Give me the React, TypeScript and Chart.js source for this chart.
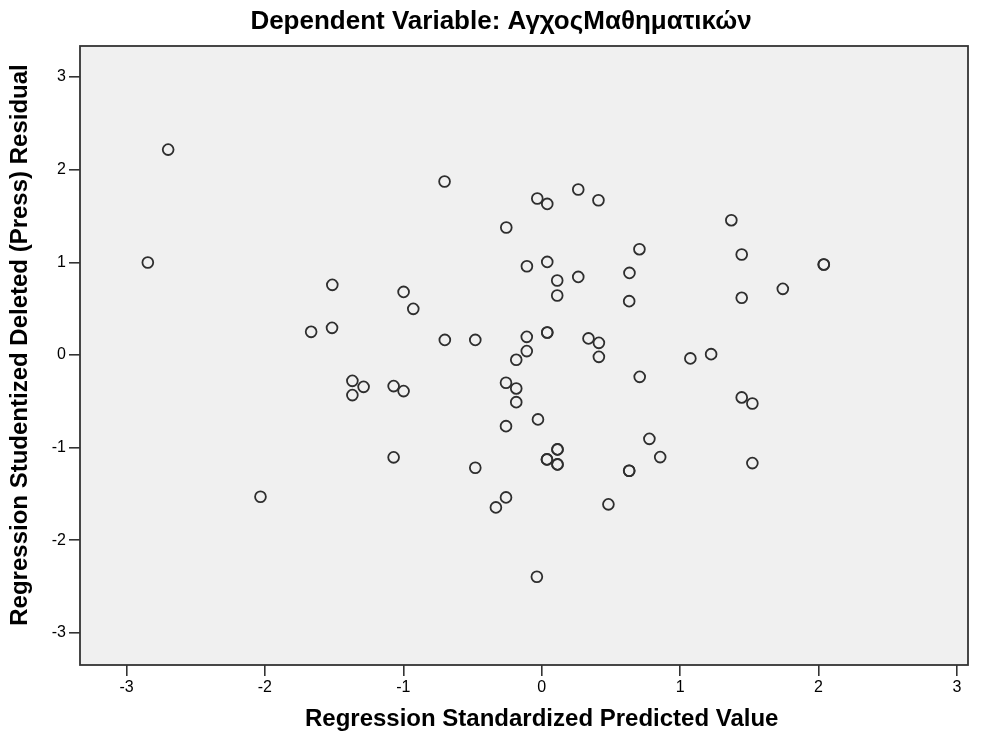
import React, { useEffect, useRef } from "react";
import { Chart, registerables } from "chart.js";

Chart.register(...registerables);

const chartTitle = "Dependent Variable: ΑγχοςΜαθηματικών";
const xAxisTitle = "Regression Standardized Predicted Value";
const yAxisTitle = "Regression Studentized Deleted (Press) Residual";

const xTicks = [-3, -2, -1, 0, 1, 2, 3];
const yTicks = [-3, -2, -1, 0, 1, 2, 3];

const xValues = [
  -2.699, -2.846, -0.702, -0.032, 0.04, 0.264, 0.41, -0.256, 1.37, 0.706,
  1.445, -0.107, 0.04, 0.112, 0.264, 0.634, 0.112, 0.632, 2.038, 2.038,
  1.742, 1.445, -1.513, -0.998, -0.928, -1.666, -1.515, -0.7, -0.48, -0.108,
  0.04, 0.04, 0.338, 0.413, -0.108, -0.184, 0.413, 1.074, 1.224, 0.708,
  -1.368, -1.287, -1.368, -1.07, -0.998, -0.258, -0.184, -0.184, 1.445, 1.522,
  -0.027, -0.258, 0.778, 0.114, 0.114, 0.038, 0.038, 0.114, 0.114, 0.632,
  0.632, 0.856, 1.522, -1.07, -0.48, -0.258, -0.331, 0.482, -2.032, -0.035,
];

const yValues = [
  2.217, 0.998, 1.872, 1.689, 1.631, 1.786, 1.67, 1.376, 1.455, 1.142,
  1.085, 0.958, 1.005, 0.804, 0.843, 0.886, 0.642, 0.581, 0.977, 0.977,
  0.714, 0.617, 0.757, 0.681, 0.498, 0.25, 0.293, 0.163, 0.163, 0.196,
  0.243, 0.243, 0.179, 0.131, 0.042, -0.052, -0.02, -0.037, 0.009, -0.236,
  -0.279, -0.344, -0.433, -0.336, -0.39, -0.3, -0.361, -0.509, -0.458, -0.523,
  -0.695, -0.768, -0.905, -1.019, -1.019, -1.127, -1.127, -1.181, -1.181, -1.25,
  -1.25, -1.102, -1.167, -1.105, -1.217, -1.537, -1.645, -1.612, -1.53, -2.393,
];

const FONT = "'Liberation Sans', Arial, sans-serif";

const plotDecor = {
  id: "plotDecor",
  beforeDraw(chart: any) {
    const { ctx, chartArea } = chart;
    ctx.save();
    ctx.fillStyle = "#f0f0f0";
    ctx.fillRect(chartArea.left, chartArea.top, chartArea.right - chartArea.left, chartArea.bottom - chartArea.top);
    ctx.restore();
  },
  afterDraw(chart: any) {
    const { ctx, chartArea } = chart;
    ctx.save();
    ctx.strokeStyle = "#333333";
    ctx.lineWidth = 1.8;
    ctx.strokeRect(chartArea.left, chartArea.top, chartArea.right - chartArea.left, chartArea.bottom - chartArea.top);
    ctx.fillStyle = "#000";
    ctx.textAlign = "center";
    ctx.textBaseline = "middle";
    ctx.font = `bold 26px ${FONT}`;
    ctx.fillText(chartTitle, 501, 22);
    ctx.font = `bold 24px ${FONT}`;
    ctx.fillText(xAxisTitle, chart.scales.x.getPixelForValue(0), 719);
    ctx.translate(20, 345);
    ctx.rotate(-Math.PI / 2);
    ctx.fillText(yAxisTitle, 0, 0);
    ctx.restore();
  },
};

export default function App() {
  const ref = useRef<HTMLCanvasElement>(null);
  useEffect(() => {
    document.body.style.margin = "0";
    const points = xValues.map((x, i) => ({ x, y: yValues[i] }));
    const chart = new Chart(ref.current!, {
      type: "scatter",
      data: {
        datasets: [
          {
            data: points,
            pointStyle: "circle",
            pointRadius: 5.4,
            pointBorderWidth: 1.8,
            borderColor: "#2e2e2e",
            backgroundColor: "rgba(0,0,0,0)",
          },
        ],
      },
      options: {
        responsive: false,
        animation: false,
        layout: { padding: { left: 0, right: 24, top: 46, bottom: 0 } },
        plugins: {
          legend: { display: false },
          tooltip: { enabled: false },
          title: { display: false },
        },
        scales: {
          x: {
            type: "linear",
            min: -3.336,
            max: 3.08,
            afterBuildTicks: (s: any) => {
              s.ticks = xTicks.map((v) => ({ value: v }));
            },
            afterFit: (s: any) => {
              s.height = 75;
            },
            grid: { display: true, drawOnChartArea: false, drawTicks: true, tickLength: 11, color: "#333", lineWidth: 1.6 },
            border: { display: false },
            ticks: { color: "#000", font: { family: FONT, size: 16 }, padding: 2, callback: (v: any) => String(v) },
          },
          y: {
            type: "linear",
            min: -3.346,
            max: 3.335,
            afterBuildTicks: (s: any) => {
              s.ticks = yTicks.map((v) => ({ value: v }));
            },
            afterFit: (s: any) => {
              s.width = 80;
            },
            grid: { display: true, drawOnChartArea: false, drawTicks: true, tickLength: 11, color: "#333", lineWidth: 1.6 },
            border: { display: false },
            ticks: { color: "#000", font: { family: FONT, size: 16 }, padding: 3, callback: (v: any) => String(v) },
          },
        },
      },
      plugins: [plotDecor],
    });
    return () => chart.destroy();
  }, []);
  return (
    <div style={{ position: "absolute", left: 0, top: 0, width: 992, height: 740 }}>
      <canvas ref={ref} width={992} height={740} />
    </div>
  );
}
